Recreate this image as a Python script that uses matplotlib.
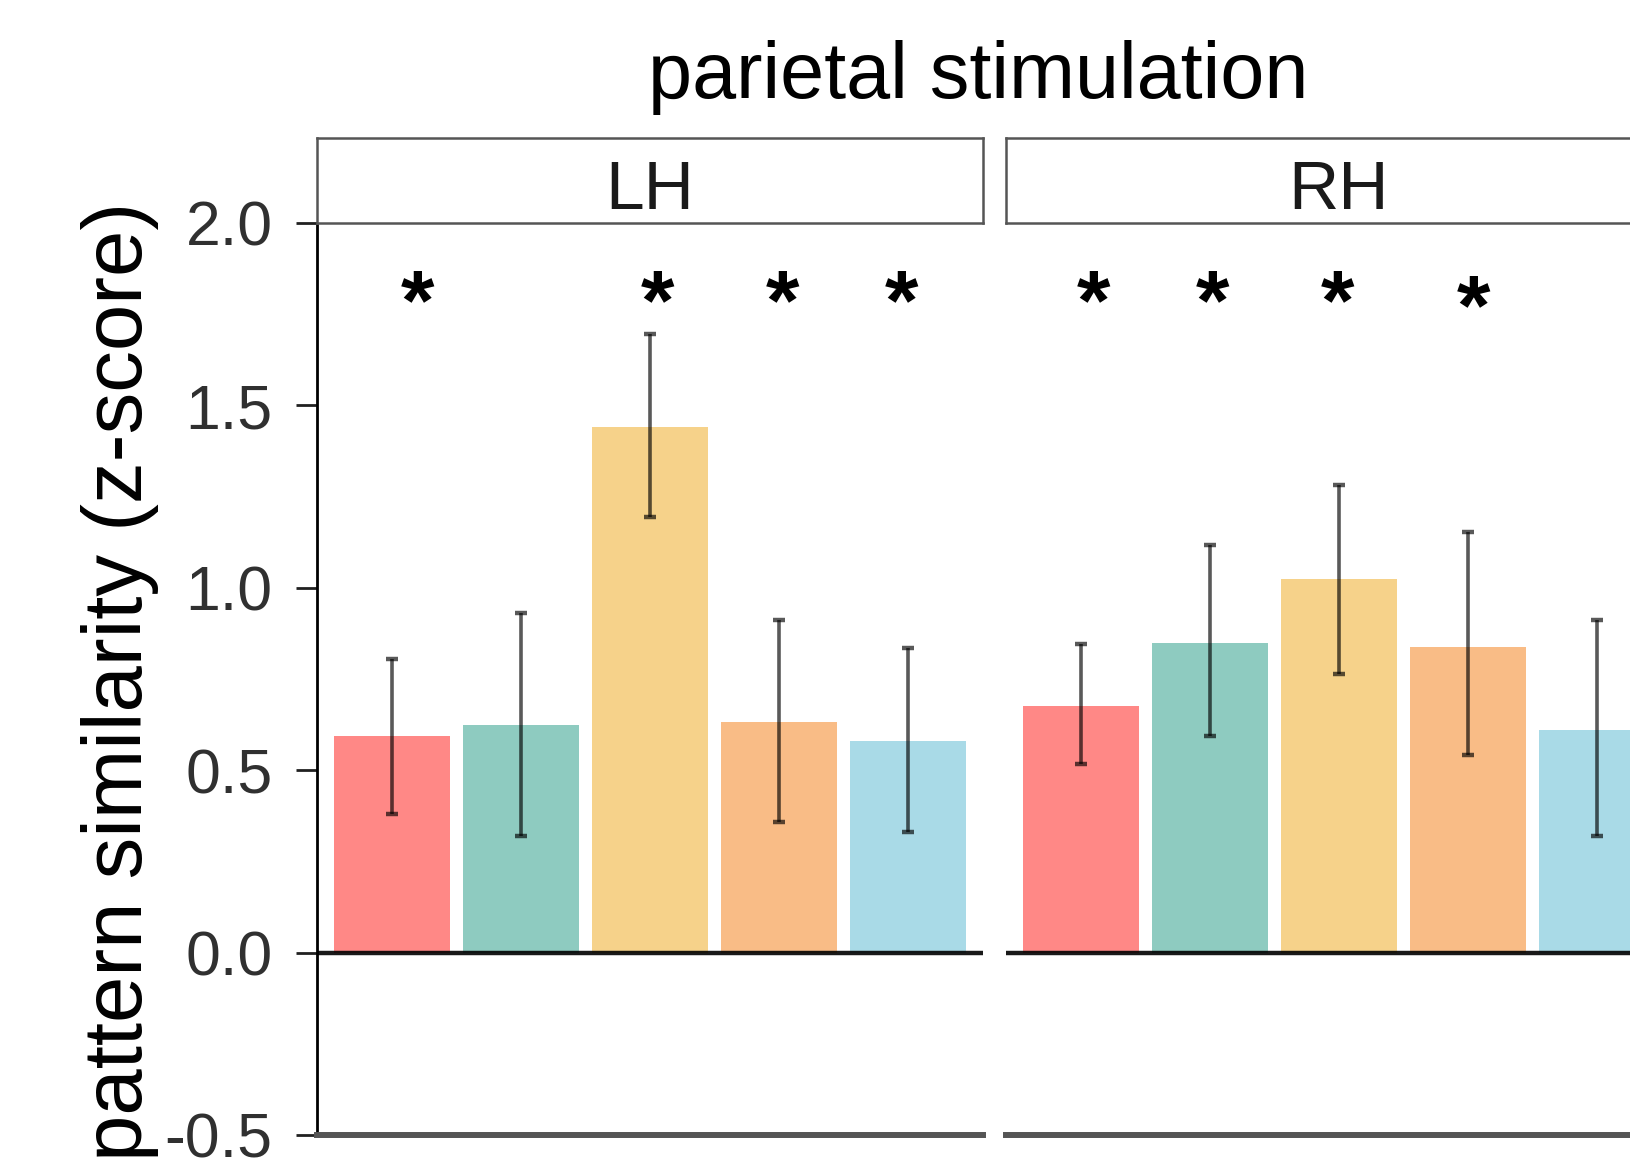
import matplotlib
matplotlib.use("Agg")
import matplotlib.pyplot as plt

plt.rcParams["font.family"] = ["Liberation Sans", "DejaVu Sans"]

# Data
conditions = [1, 2, 3, 4, 5]
bar_colors = ["#FF8886", "#8ECBC0", "#F6D28A", "#F9BC86", "#A9DAE7"]

lh_mean = [0.594, 0.624, 1.441, 0.633, 0.579]
lh_upper = [0.804, 0.930, 1.695, 0.913, 0.836]
lh_lower = [0.381, 0.320, 1.195, 0.359, 0.331]

rh_mean = [0.676, 0.850, 1.024, 0.839, 0.611]
rh_upper = [0.845, 1.116, 1.281, 1.153, 0.913]
rh_lower = [0.516, 0.593, 0.765, 0.542, 0.320]

lh_star_x = [1.20, 3.06, 4.03, 4.95]
lh_star_y = [1.77, 1.77, 1.77, 1.77]
rh_star_x = [1.10, 2.02, 2.99, 4.04]
rh_star_y = [1.77, 1.77, 1.77, 1.755]

panel_labels = ["LH", "RH"]
yticks = [-0.5, 0.0, 0.5, 1.0, 1.5, 2.0]
ytick_labels = ["-0.5", "0.0", "0.5", "1.0", "1.5", "2.0"]

W, H = 1631, 1162
fig = plt.figure(figsize=(W / 100, H / 100), dpi=100)

panel_left = [317, 1006]
panel_w = 666
top_px, bot_px = 223, 1135
strip_top = 138

panels = [
    (lh_mean, lh_upper, lh_lower, lh_star_x, lh_star_y),
    (rh_mean, rh_upper, rh_lower, rh_star_x, rh_star_y),
]

for i, (mean, upper, lower, sx, sy) in enumerate(panels):
    ax = fig.add_axes([panel_left[i] / W, (H - bot_px) / H, panel_w / W, (bot_px - top_px) / H])
    ax.bar(conditions, mean, width=0.9, color=bar_colors, zorder=1)
    yerr = [[m - lo for m, lo in zip(mean, lower)], [u - m for m, u in zip(mean, upper)]]
    ax.errorbar(conditions, mean, yerr=yerr, fmt="none", ecolor="black", alpha=0.65,
                elinewidth=2.6, capsize=4, capthick=3.2, zorder=3)
    ax.axhline(0, color="black", lw=3.2, alpha=0.9, zorder=2)
    for x, y in zip(sx, sy):
        ax.text(x, y, "*", ha="center", va="center", fontsize=62, fontweight="bold",
                color="black")
    ax.set_xlim(0.42, 5.58)
    ax.set_ylim(-0.5, 2.0)
    ax.set_xticks([])
    for s in ["top", "right"]:
        ax.spines[s].set_visible(False)
    ax.spines["bottom"].set_color("#555555")
    ax.spines["bottom"].set_linewidth(4.3)
    if i == 0:
        ax.spines["left"].set_color("black")
        ax.spines["left"].set_linewidth(2.0)
        ax.set_yticks(yticks)
        ax.set_yticklabels(ytick_labels, fontsize=45, color="#303030")
        ax.tick_params(axis="y", length=15, width=2.0, pad=17, color="#202020")
    else:
        ax.spines["left"].set_visible(False)
        ax.set_yticks([])

    # facet strip
    sax = fig.add_axes([panel_left[i] / W, (H - top_px) / H, panel_w / W, (top_px - strip_top) / H])
    sax.set_xticks([])
    sax.set_yticks([])
    for s in sax.spines.values():
        s.set_color("#555555")
        s.set_linewidth(1.8)
    sax.text(0.5, 0.38, panel_labels[i], ha="center", va="center", fontsize=50,
             color="#1A1A1A", transform=sax.transAxes)

fig.text(978 / W, 1 - 98 / H, "parietal stimulation", ha="center", va="baseline",
         fontsize=57, color="black")
fig.text(120 / W, 1 - 681 / H, "pattern similarity (z-score)", ha="center", va="center",
         rotation=90, fontsize=60, color="black")

fig.savefig("out.png", dpi=100)
